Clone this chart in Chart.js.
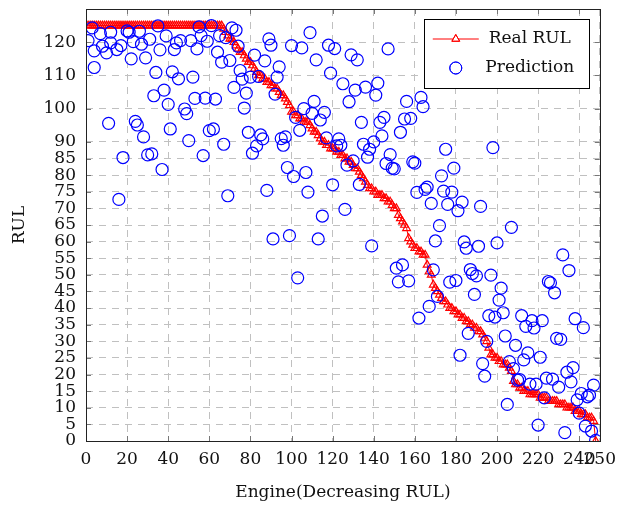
<!DOCTYPE html>
<html>
<head>
<meta charset="utf-8">
<script src="https://cdn.jsdelivr.net/npm/chart.js@4.4.1/dist/chart.umd.min.js"></script>
<style>
	html, body { margin: 0; padding: 0; background: #fff; }
	#wrap { width: 624px; height: 506px; }
</style>
</head>
<body>
<div id="wrap"><canvas id="chart" width="624" height="506"></canvas></div>
<script>
// Real RUL, engines 1..248 sorted by decreasing RUL
const realRul = [
	125, 125, 125, 125, 125, 125, 125, 125, 125, 125,
	125, 125, 125, 125, 125, 125, 125, 125, 125, 125,
	125, 125, 125, 125, 125, 125, 125, 125, 125, 125,
	125, 125, 125, 125, 125, 125, 125, 125, 125, 125,
	125, 125, 125, 125, 125, 125, 125, 125, 125, 125,
	125, 125, 125, 125, 125, 125, 125, 125, 125, 125,
	125, 125, 125, 125, 125, 125, 124, 123, 122, 121,
	121, 120, 119, 118, 117, 117, 116, 115, 114, 114,
	113, 112, 111, 110, 110, 109, 109, 108, 108, 107,
	107, 106, 106, 105, 104, 104, 103, 102, 101, 99,
	99, 98, 98, 97, 97, 96, 96, 96, 95, 94,
	93, 93, 92, 91, 90, 90, 89, 89, 88, 88,
	88, 87, 87, 86, 86, 85, 85, 84, 84, 83,
	82, 82, 81, 80, 79, 78, 77, 76, 76, 75,
	75, 74, 74, 74, 73, 73, 72, 72, 71, 70,
	70, 68, 67, 66, 65, 64, 61, 60, 59, 58,
	58, 57, 57, 56, 56, 53, 51, 50, 47, 46,
	45, 44, 43, 42, 42, 41, 40, 40, 39, 39,
	38, 38, 37, 37, 36, 36, 35, 35, 34, 34,
	33, 33, 32, 31, 30, 28, 26, 26, 25, 25,
	24, 24, 23, 23, 23, 22, 21, 18, 17, 17,
	16, 16, 15, 15, 15, 14, 14, 14, 14, 14,
	13, 13, 13, 13, 12, 12, 12, 12, 12, 11,
	11, 11, 11, 10, 10, 10, 10, 9, 9, 9,
	8, 8, 8, 7, 7, 7, 6, 0,
];
const engines = realRul.map((_, i) => i + 1);

// predictions (engine index, predicted RUL)
const predX = [
	1, 3, 4, 4, 7, 8, 10, 11, 12, 12, 15, 16, 17, 18, 20, 21, 22, 23, 24, 25,
	26, 27, 28, 29, 30, 31, 32, 33, 34, 35, 36, 37, 38, 39, 40, 41, 42, 43, 44, 45,
	46, 48, 49, 50, 51, 52, 53, 54, 55, 56, 57, 58, 59, 60, 61, 62, 63, 64, 65, 66,
	67, 68, 69, 70, 71, 72, 73, 74, 75, 76, 77, 78, 79, 80, 81, 82, 83, 84, 85, 86,
	87, 88, 89, 90, 91, 92, 93, 94, 95, 96, 97, 98, 99, 100, 101, 102, 103, 104, 105, 106,
	107, 108, 109, 110, 111, 112, 113, 114, 115, 116, 117, 118, 119, 120, 121, 122, 123, 124, 125, 126,
	127, 128, 129, 130, 131, 132, 133, 134, 135, 136, 137, 138, 139, 140, 141, 142, 143, 144, 145, 146,
	147, 148, 149, 150, 151, 152, 153, 154, 155, 156, 157, 158, 159, 160, 161, 162, 163, 164, 165, 166,
	167, 168, 169, 170, 171, 172, 173, 174, 175, 176, 177, 178, 179, 180, 181, 182, 183, 184, 185, 186,
	187, 188, 189, 190, 191, 192, 193, 194, 195, 196, 197, 198, 199, 200, 201, 202, 203, 204, 205, 206,
	207, 208, 209, 210, 211, 212, 213, 214, 215, 216, 217, 218, 219, 220, 221, 222, 223, 224, 225, 226,
	227, 228, 229, 230, 231, 232, 233, 234, 235, 236, 237, 238, 239, 240, 241, 242, 243, 244, 245, 246,
	247, 248,
];
const predY = [
	120.5, 124.3, 112.4, 117.4, 122.6, 118.8, 116.8, 95.6, 123, 119.8, 117.8, 72.7, 119, 85.3, 123.4, 123, 115, 120.2, 96.2, 95.1,
	123.3, 119.4, 91.5, 115.3, 86.1, 120.9, 86.4, 103.9, 110.9, 124.9, 117.7, 81.7, 105.6, 121.9, 101.3, 93.9, 111.1, 117.8, 119.8, 109,
	120.5, 99.9, 98.5, 90.4, 120.5, 109.5, 103.1, 118, 124.6, 122, 85.9, 103.2, 120.3, 93.4, 125, 93.9, 102.9, 117, 122, 114,
	89.3, 121.4, 73.8, 114.5, 124.3, 106.4, 123.6, 118.8, 111.5, 108.9, 100.2, 104.7, 92.9, 109.5, 86.6, 116.1, 88.8, 109.7, 92.1, 90.9,
	114.4, 75.4, 121, 119.1, 60.8, 104.4, 109.5, 112.6, 91, 89, 91.5, 82.3, 61.8, 119, 79.6, 97.4, 49.1, 93.5, 118.3, 100,
	80.8, 74.9, 122.9, 98.6, 102.2, 114.7, 60.8, 96.6, 67.7, 98.9, 91.2, 119.1, 110.7, 77.1, 118.1, 88.8, 90.9, 89, 107.5, 69.7,
	83, 102.1, 116.2, 84.3, 105.6, 114.7, 77.2, 95.9, 89.3, 106.5, 85.4, 87.8, 58.7, 90, 104.1, 107.7, 95.9, 91.8, 97.4, 83.5,
	118, 86.2, 82.1, 81.9, 52, 47.9, 92.9, 53, 96.9, 102.2, 48.2, 97.1, 84, 83.6, 74.8, 37, 103.4, 100.6, 75.7, 76.4,
	40.5, 71.5, 51.5, 60.2, 43.5, 64.8, 79.8, 75.2, 87.8, 71.2, 47.8, 74.9, 82.1, 48.3, 69.3, 25.8, 71.9, 59.9, 58, 32.4,
	51.6, 50.4, 44.1, 49.7, 58.6, 70.6, 23.3, 19.5, 30, 37.7, 49.9, 88.3, 37.3, 59.6, 42.4, 46, 38.6, 31.6, 11, 23.9,
	64.3, 21.8, 28.8, 18.3, 18.5, 37.7, 24.4, 34.5, 26.5, 17.1, 36.2, 34, 17.1, 4.8, 25.2, 36.2, 13, 18.9, 48, 47.6,
	18.6, 44.6, 30.9, 16.2, 30.6, 56, 2.5, 20.7, 51.3, 17.8, 22.1, 36.8, 12.4, 8.4, 14.3, 34.1, 4.5, 13.3, 13.8, 3,
	16.8, 0.2,
];

const xTicks = [0, 20, 40, 60, 80, 100, 120, 140, 160, 180, 200, 220, 240, 250];
const yTicks = [0, 5, 10, 15, 20, 25, 30, 35, 40, 45, 50, 55, 60, 65, 70, 75, 80, 85, 90, 100, 110, 120];

const FONT = "'DejaVu Serif', serif";
const RED = 'rgb(255, 0, 0)';
const BLUE = 'rgb(0, 0, 255)';

// inner tick marks on all four sides + full frame
const framePlugin = {
	id: 'frame',
	afterDraw(chart) {
		const { ctx, chartArea: a, scales } = chart;
		ctx.save();
		ctx.strokeStyle = '#777';
		ctx.lineWidth = 1;
		ctx.beginPath();
		scales.x.ticks.forEach((t) => {
			const px = Math.round(scales.x.getPixelForValue(t.value)) + 0.5;
			ctx.moveTo(px, a.bottom);
			ctx.lineTo(px, a.bottom - 5);
			ctx.moveTo(px, a.top);
			ctx.lineTo(px, a.top + 5);
		});
		scales.y.ticks.forEach((t) => {
			const py = Math.round(scales.y.getPixelForValue(t.value)) + 0.5;
			ctx.moveTo(a.left, py);
			ctx.lineTo(a.left + 5, py);
			ctx.moveTo(a.right, py);
			ctx.lineTo(a.right - 5, py);
		});
		ctx.stroke();
		ctx.strokeStyle = '#222';
		ctx.strokeRect(Math.round(a.left) + 0.5, Math.round(a.top) + 0.5,
			Math.round(a.right - a.left), Math.round(a.bottom - a.top));
		ctx.restore();
	},
};

// legend box inside the plot, top right
const legendPlugin = {
	id: 'boxLegend',
	afterDraw(chart) {
		const { ctx, chartArea: a } = chart;
		const x0 = a.right - 176, y0 = a.top + 10, w = 165, h = 69;
		ctx.save();
		ctx.fillStyle = '#fff';
		ctx.fillRect(x0, y0, w, h);
		ctx.strokeStyle = '#000';
		ctx.lineWidth = 1;
		ctx.strokeRect(Math.round(x0) + 0.5, Math.round(y0) + 0.5, w, h);

		const r1 = y0 + 20, r2 = y0 + 49, mx = x0 + 32;
		ctx.strokeStyle = RED;
		ctx.beginPath();
		ctx.moveTo(x0 + 9, r1);
		ctx.lineTo(x0 + 55, r1);
		ctx.stroke();
		Chart.helpers.drawPoint(ctx, { pointStyle: 'triangle', radius: 4.5, borderWidth: 1.2 }, mx, r1);
		ctx.stroke();
		ctx.strokeStyle = BLUE;
		Chart.helpers.drawPoint(ctx, { pointStyle: 'circle', radius: 6, borderWidth: 1.2 }, mx, r2);
		ctx.stroke();

		ctx.fillStyle = '#111';
		ctx.font = '17px ' + FONT;
		ctx.textAlign = 'center';
		ctx.textBaseline = 'middle';
		ctx.fillText('Real RUL', x0 + 106, r1);
		ctx.fillText('Prediction', x0 + 106, r2);
		ctx.restore();
	},
};

const config = {
	type: 'scatter',
	data: {
		datasets: [
			{
				label: 'Real RUL',
				type: 'line',
				data: engines.map((e, i) => ({ x: e, y: realRul[i] })),
				borderColor: RED,
				backgroundColor: 'rgba(0,0,0,0)',
				borderWidth: 1,
				pointStyle: 'triangle',
				pointRadius: 4.5,
				pointBorderWidth: 1.2,
				tension: 0,
				order: 2,
			},
			{
				label: 'Prediction',
				data: predX.map((x, i) => ({ x: x, y: predY[i] })),
				borderColor: BLUE,
				backgroundColor: 'rgba(0,0,0,0)',
				pointStyle: 'circle',
				pointRadius: 6,
				pointBorderWidth: 1.2,
				showLine: false,
				order: 1,
			},
		],
	},
	options: {
		responsive: false,
		animation: false,
		layout: { padding: { left: 0, right: 20, top: 9, bottom: 0 } },
		plugins: {
			legend: { display: false },
			tooltip: { enabled: false },
		},
		scales: {
			x: {
				type: 'linear',
				min: 0,
				max: 250,
				afterBuildTicks: (s) => { s.ticks = xTicks.map((v) => ({ value: v })); },
				afterFit: (s) => { s.height = 65; },
				ticks: { color: '#111', padding: 8, autoSkip: false, maxRotation: 0, font: { family: FONT, size: 17 } },
				grid: { color: '#c0c0c0', drawTicks: false },
				border: { display: false, dash: [7, 6] },
				title: { display: true, text: 'Engine(Decreasing RUL)', color: '#111', padding: { top: 4, bottom: 3 }, font: { family: FONT, size: 17 } },
			},
			y: {
				type: 'linear',
				min: 0,
				max: 130,
				afterBuildTicks: (s) => { s.ticks = yTicks.map((v) => ({ value: v })); },
				afterFit: (s) => { s.width = 86; s.paddingTop = 0; s.paddingBottom = 0; },
				ticks: { color: '#111', padding: 10, autoSkip: false, font: { family: FONT, size: 17 } },
				grid: { color: '#c0c0c0', drawTicks: false },
				border: { display: false, dash: [7, 6] },
				title: { display: true, text: 'RUL', color: '#111', padding: { top: 9, bottom: 0 }, font: { family: FONT, size: 17 } },
			},
		},
	},
	plugins: [framePlugin, legendPlugin],
};

function renderChart() {
	const chartCanvas = document.getElementById('chart');
	new Chart(chartCanvas, config);
}

renderChart();
</script>
</body>
</html>
